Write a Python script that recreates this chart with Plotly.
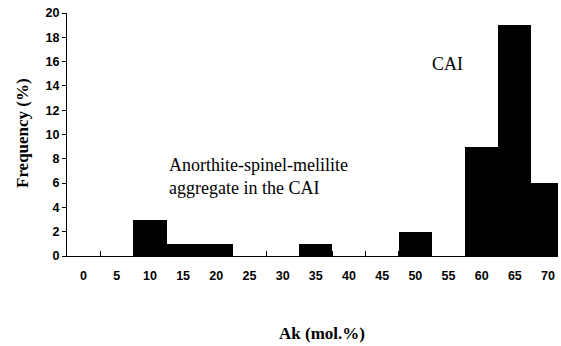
import plotly.graph_objects as go

categories = ["0", "5", "10", "15", "20", "25", "30", "35", "40", "45", "50", "55", "60", "65", "70"]
frequency = [0, 0, 3, 1, 1, 0, 0, 1, 0, 0, 2, 0, 9, 19, 6]
y_ticks = [0, 2, 4, 6, 8, 10, 12, 14, 16, 18, 20]

W, H = 561, 346
L, R, T, B = 67, 3, 13, 90
pw = W - L - R
ph = H - T - B

def px(x):
    return (x - L) / pw

def py(y):
    return (H - B - y) / ph

fig = go.Figure()
fig.add_trace(go.Bar(x=categories, y=frequency, marker=dict(color="black", line=dict(width=0)),
                     hoverinfo="skip"))

serif = "Liberation Serif"
sans = "Liberation Sans"

fig.update_layout(
    width=W, height=H,
    margin=dict(l=L, r=R, t=T, b=B, autoexpand=False),
    paper_bgcolor="white", plot_bgcolor="white",
    bargap=0, showlegend=False,
    xaxis=dict(
        type="category", range=[-0.5, 14.3], automargin=False,
        showline=True, linecolor="black", linewidth=1,
        ticks="inside", tickson="boundaries", ticklen=5, tickcolor="black",
        showgrid=False, zeroline=False,
        tickfont=dict(family=sans, size=12.5, color="black", weight="bold"),
        ticklabelstandoff=8,
    ),
    yaxis=dict(
        range=[0, 20], tickvals=y_ticks, automargin=False,
        showline=True, linecolor="black", linewidth=1,
        ticks="outside", ticklen=4, tickcolor="black",
        showgrid=False, zeroline=False,
        tickfont=dict(family=sans, size=12.5, color="black", weight="bold"),
    ),
    annotations=[
        dict(text="<b>Ak (mol.%)</b>", x=px(322), y=py(333), xref="paper", yref="paper",
             showarrow=False, font=dict(family=serif, size=17, color="black"),
             xanchor="center", yanchor="middle"),
        dict(text="<b>Frequency (%)</b>", x=px(22), y=py(133), xref="paper", yref="paper",
             showarrow=False, textangle=-90, font=dict(family=serif, size=17, color="black"),
             xanchor="center", yanchor="middle"),
        dict(text="CAI", x=px(430), y=py(64), xref="paper", yref="paper",
             showarrow=False, font=dict(family=serif, size=18, color="black"),
             xanchor="left", yanchor="middle"),
        dict(text="Anorthite-spinel-melilite<br>aggregate in the CAI", x=px(167), y=py(176),
             xref="paper", yref="paper", align="left",
             showarrow=False, font=dict(family=serif, size=18, color="black"),
             xanchor="left", yanchor="middle"),
    ],
)

fig.write_html("out.html", config={"displayModeBar": False},
               post_script="document.body.style.margin='0px';document.body.style.overflow='hidden';")
